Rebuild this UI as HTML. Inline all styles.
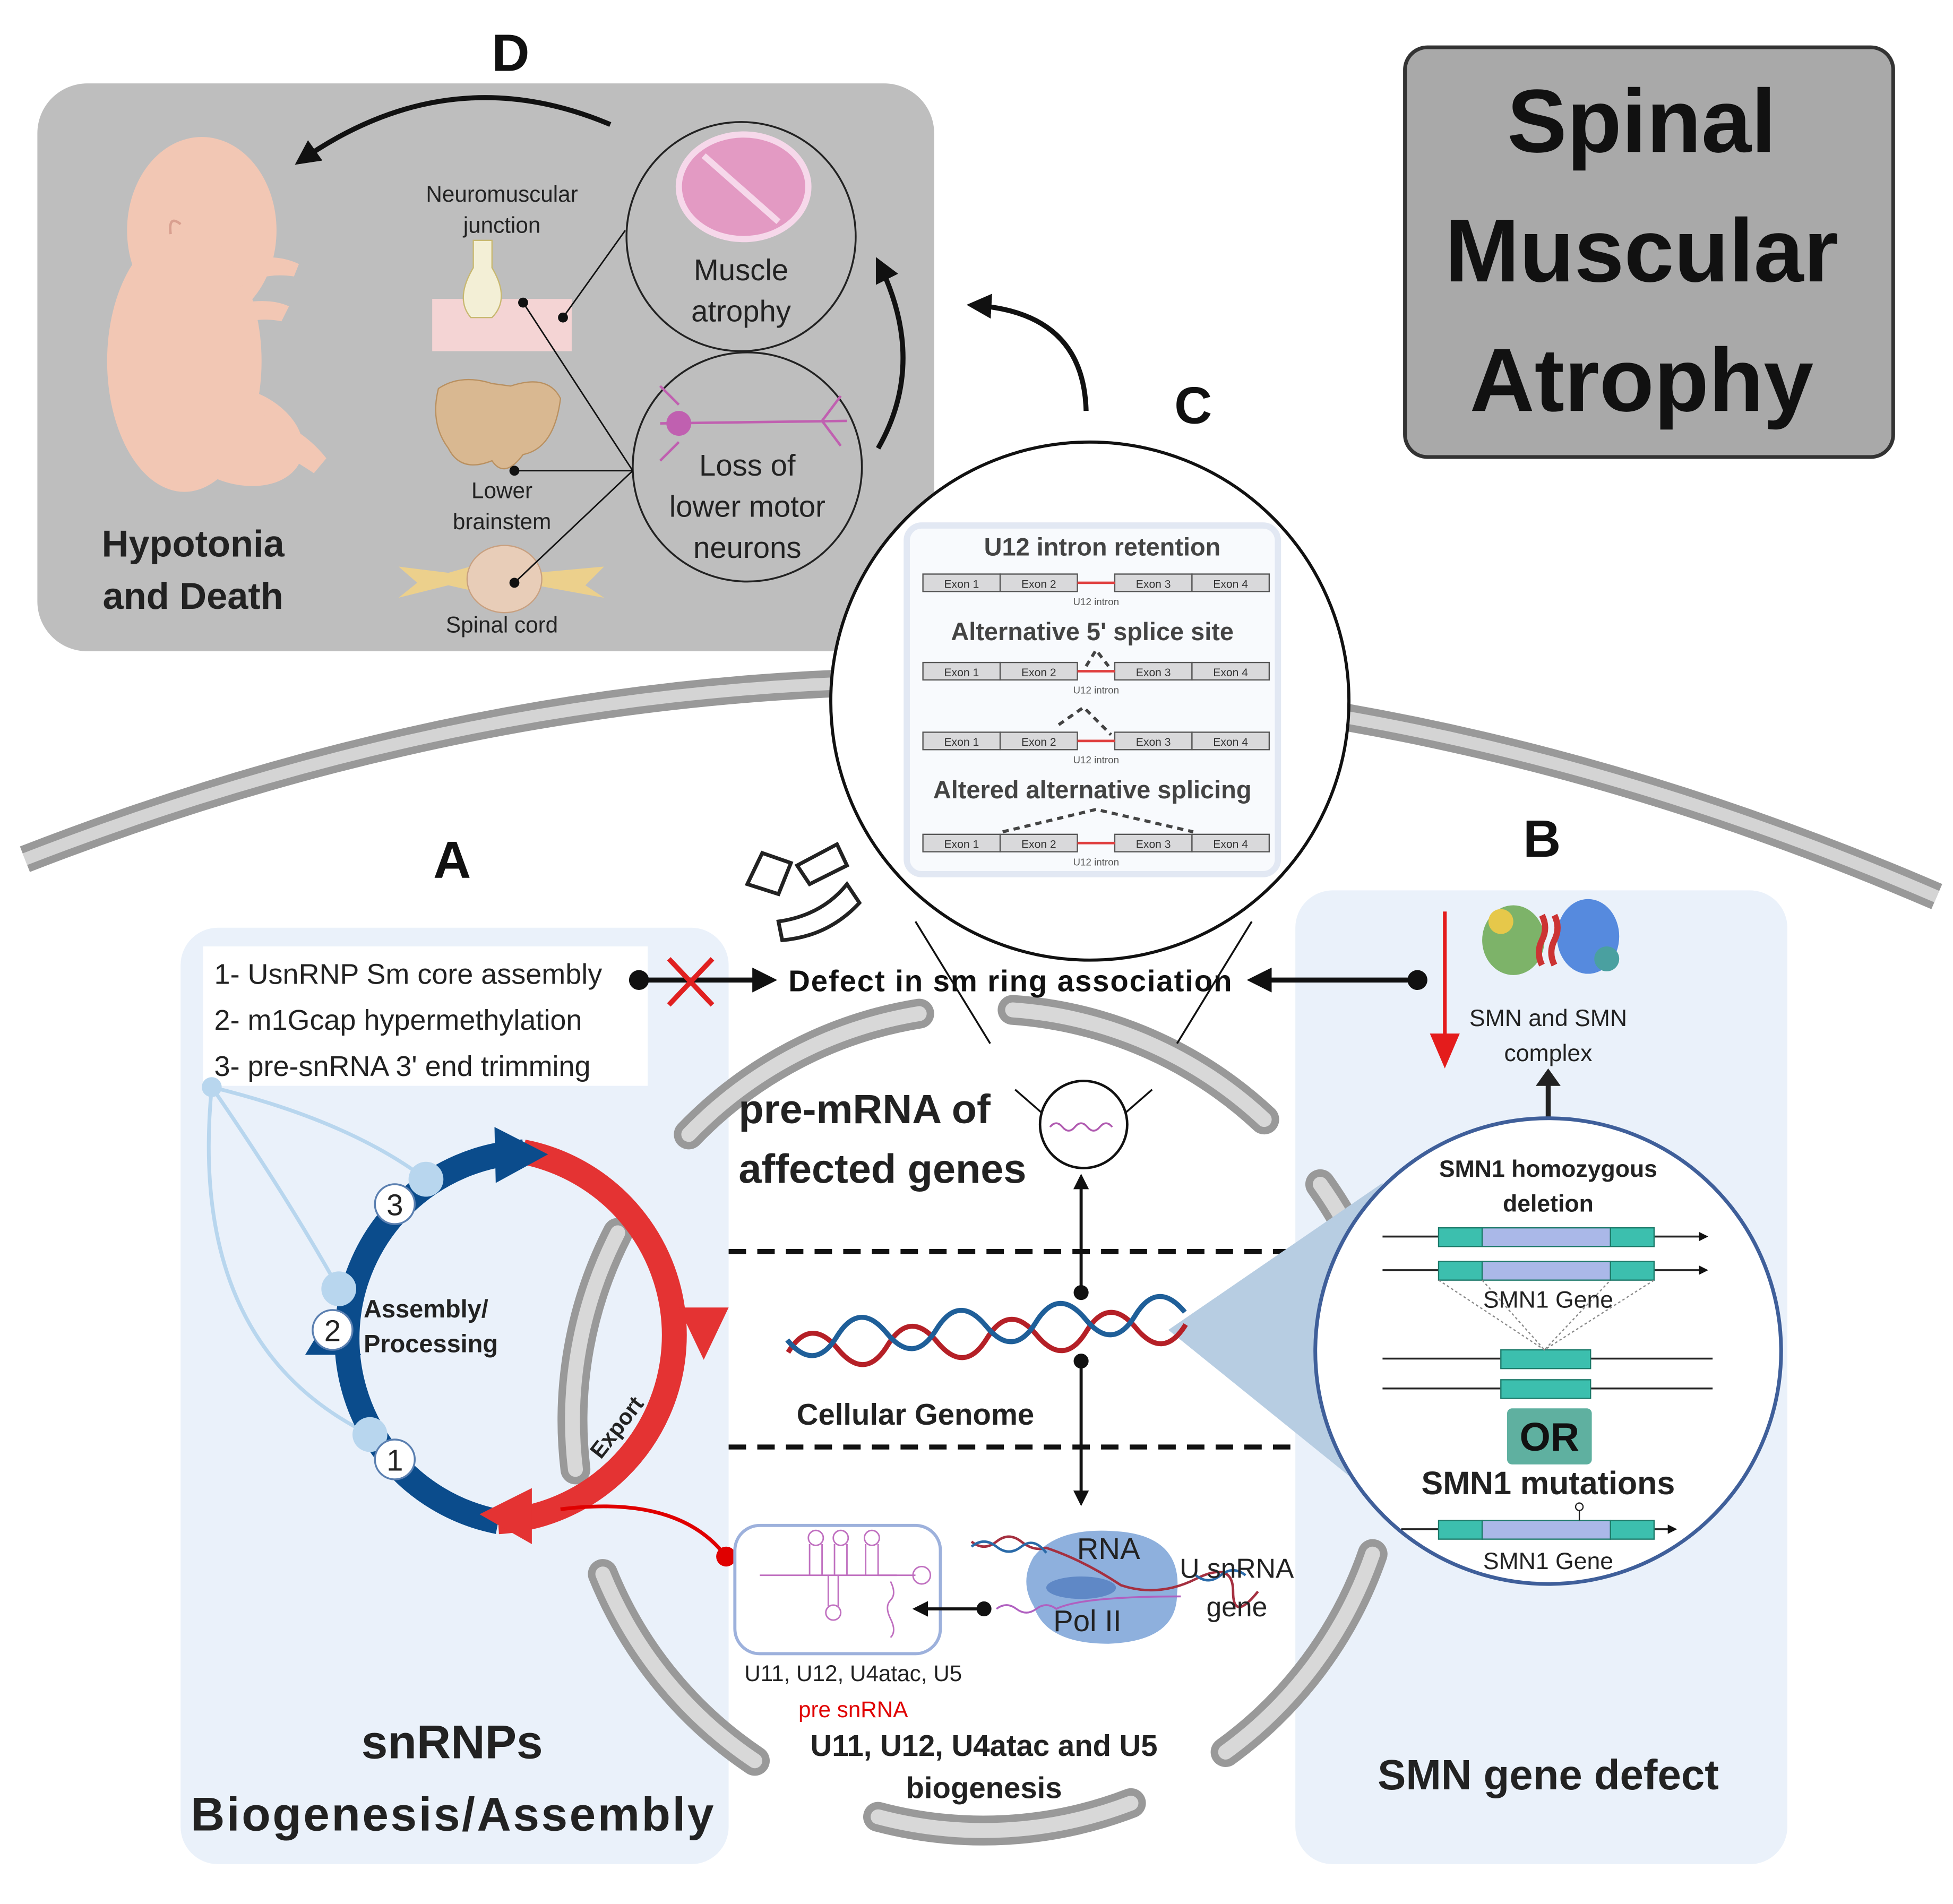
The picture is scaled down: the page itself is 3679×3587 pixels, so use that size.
<!DOCTYPE html>
<html><head><meta charset="utf-8"><style>
html,body{margin:0;padding:0;background:#fff;}
svg{display:block;}
text{font-family:"Liberation Sans",sans-serif;}
.b{font-weight:bold;}
</style></head><body>
<svg width="3679" height="3587" viewBox="0 0 1568 1529" preserveAspectRatio="none" xmlns="http://www.w3.org/2000/svg">
<defs>
<marker id="ak" viewBox="0 0 10 10" refX="8" refY="5" markerWidth="5" markerHeight="5" orient="auto"><path d="M0,0L10,5L0,10z" fill="#111"/></marker>
</defs>
<rect width="1568" height="1529" fill="#fff"/>

<!-- D panel -->
<rect x="30" y="67" width="720" height="456" rx="40" fill="#bebebe"/>
<text x="410" y="57" font-size="42" class="b" text-anchor="middle" fill="#111">D</text>
<!-- baby -->
<g fill="#f2c7b4">
<ellipse cx="162" cy="185" rx="60" ry="75"/>
<ellipse cx="148" cy="290" rx="62" ry="105"/>
<ellipse cx="190" cy="350" rx="55" ry="38" transform="rotate(20 190 350)"/>
<path d="M180,215 Q215,200 240,212 L236,222 Q210,218 190,232z"/>
<path d="M185,245 Q215,238 232,246 L226,258 Q205,254 190,262z"/>
<path d="M200,330 Q240,340 262,368 L252,380 Q225,362 205,355z"/>
</g>
<path d="M145,180 q-10,-8 -8,8" stroke="#d9a090" stroke-width="2" fill="none"/>
<text x="155" y="447" font-size="30" class="b" text-anchor="middle" fill="#222">Hypotonia</text>
<text x="155" y="489" font-size="30" class="b" text-anchor="middle" fill="#222">and Death</text>
<text x="403" y="162" font-size="18" text-anchor="middle" fill="#222">Neuromuscular</text>
<text x="403" y="187" font-size="18" text-anchor="middle" fill="#222">junction</text>
<rect x="347" y="240" width="112" height="42" fill="#f4d4d4"/>
<path d="M380,193 L395,193 L395,215 Q410,240 395,255 L378,255 Q365,240 380,215z" fill="#f3efd6" stroke="#c8b870"/>
<path d="M352,312 Q370,300 395,308 L410,310 Q440,300 450,320 Q445,360 420,365 Q405,385 395,370 Q370,380 360,360 Q345,340 352,312z" fill="#d9b891" stroke="#b99060"/>
<text x="403" y="400" font-size="18" text-anchor="middle" fill="#222">Lower</text>
<text x="403" y="425" font-size="18" text-anchor="middle" fill="#222">brainstem</text>
<path d="M320,455 L360,460 L395,450 L430,460 L485,455 L470,470 L485,480 L430,470 L395,478 L360,470 L320,480 L335,468z" fill="#ecd08c"/>
<ellipse cx="405" cy="465" rx="30" ry="27" fill="#e8cdb8" stroke="#c8a080"/>
<text x="403" y="508" font-size="18" text-anchor="middle" fill="#222">Spinal cord</text>
<circle cx="595" cy="190" r="92" fill="none" stroke="#222" stroke-width="1.5"/>
<circle cx="600" cy="375" r="92" fill="none" stroke="#222" stroke-width="1.5"/>
<ellipse cx="597" cy="150" rx="52" ry="42" fill="#e39ac3" stroke="#f6d8ea" stroke-width="5"/>
<path d="M565,125 L625,178" stroke="#f6d8ea" stroke-width="5"/>
<text x="595" y="225" font-size="24" text-anchor="middle" fill="#222">Muscle</text>
<text x="595" y="258" font-size="24" text-anchor="middle" fill="#222">atrophy</text>
<path d="M530,340 L680,338 M545,325 l-15,-15 M545,355 l-15,15 M660,338 l15,-20 M660,338 l15,20" stroke="#c060b0" stroke-width="2" fill="none"/>
<circle cx="545" cy="340" r="10" fill="#c060b0"/>
<text x="600" y="382" font-size="24" text-anchor="middle" fill="#222">Loss of</text>
<text x="600" y="415" font-size="24" text-anchor="middle" fill="#222">lower motor</text>
<text x="600" y="448" font-size="24" text-anchor="middle" fill="#222">neurons</text>
<g stroke="#111" stroke-width="1.2" fill="none">
<path d="M452,255 L502,185"/><path d="M420,243 L508,378"/><path d="M413,378 L508,378"/><path d="M413,468 L508,378"/>
</g>
<g fill="#111"><circle cx="452" cy="255" r="4"/><circle cx="420" cy="243" r="4"/><circle cx="413" cy="378" r="4"/><circle cx="413" cy="468" r="4"/></g>
<path d="M490,100 Q360,45 240,130" stroke="#111" stroke-width="4" fill="none" marker-end="url(#ak)"/>
<path d="M705,360 Q745,290 705,210" stroke="#111" stroke-width="4" fill="none" marker-end="url(#ak)"/>
<path d="M872,330 Q870,250 780,245" stroke="#111" stroke-width="4" fill="none" marker-end="url(#ak)"/>

<!-- title -->
<rect x="1128" y="38" width="392" height="329" rx="18" fill="#a9a9a9" stroke="#333" stroke-width="3"/>
<text x="1318" y="122" font-size="72" class="b" text-anchor="middle" fill="#111">Spinal</text>
<text x="1318" y="226" font-size="72" class="b" text-anchor="middle" fill="#111">Muscular</text>
<text x="1318" y="330" font-size="72" class="b" text-anchor="middle" fill="#111">Atrophy</text>

<!-- outer membrane -->
<path d="M20,690 Q790,390 1555,720" stroke="#999" stroke-width="22" fill="none"/>
<path d="M20,690 Q790,390 1555,720" stroke="#d4d4d4" stroke-width="10" fill="none"/>

<!-- panels A B -->
<rect x="145" y="745" width="440" height="752" rx="30" fill="#eaf1fa"/>
<rect x="1040" y="715" width="395" height="782" rx="30" fill="#eaf1fa"/>

<!-- inner ring pieces -->
<g fill="none" stroke-linecap="round">
<g stroke="#999" stroke-width="24">
<path d="M553,911 A330,330 0 0 1 738,814"/><path d="M813,811 A330,330 0 0 1 1015,899"/>
<path d="M496,990 A330,330 0 0 0 462,1180"/><path d="M484,1264 A330,330 0 0 0 606,1414"/>
<path d="M705,1459 A330,330 0 0 0 908,1448"/><path d="M984,1407 A330,330 0 0 0 1102,1248"/>
<path d="M1060,951 A330,330 0 0 1 1089,1000"/>
</g>
<g stroke="#d8d8d8" stroke-width="12">
<path d="M553,911 A330,330 0 0 1 738,814"/><path d="M813,811 A330,330 0 0 1 1015,899"/>
<path d="M496,990 A330,330 0 0 0 462,1180"/><path d="M484,1264 A330,330 0 0 0 606,1414"/>
<path d="M705,1459 A330,330 0 0 0 908,1448"/><path d="M984,1407 A330,330 0 0 0 1102,1248"/>
<path d="M1060,951 A330,330 0 0 1 1089,1000"/>
</g>
</g>

<text x="363" y="705" font-size="42" class="b" text-anchor="middle" fill="#111">A</text>
<text x="1238" y="688" font-size="42" class="b" text-anchor="middle" fill="#111">B</text>
<text x="958" y="340" font-size="42" class="b" text-anchor="middle" fill="#111">C</text>

<!-- list box -->
<rect x="163" y="760" width="357" height="112" fill="#fff"/>
<text x="172" y="790" font-size="23" fill="#222">1- UsnRNP Sm core assembly</text>
<text x="172" y="827" font-size="23" fill="#222">2- m1Gcap hypermethylation</text>
<text x="172" y="864" font-size="23" fill="#222">3- pre-snRNA 3' end trimming</text>

<!-- defect arrows -->
<line x1="513" y1="787" x2="620" y2="787" stroke="#111" stroke-width="4" marker-end="url(#ak)"/>
<circle cx="513" cy="787" r="8" fill="#111"/>
<path d="M537,770 L572,807 M572,770 L537,807" stroke="#e02020" stroke-width="4"/>

<!-- small Sm ring icons -->
<g fill="#fff" stroke="#222" stroke-width="3">
<path d="M600,710 L612,685 L635,693 L625,718z"/><path d="M640,695 L672,678 L680,695 L650,710z"/>
<path d="M625,740 Q660,735 680,710 L690,725 Q665,752 628,755z"/>
</g>

<!-- C circle -->
<line x1="735" y1="740" x2="795" y2="838" stroke="#111" stroke-width="1.5"/>
<line x1="1005" y1="740" x2="945" y2="838" stroke="#111" stroke-width="1.5"/>
<line x1="815" y1="875" x2="838" y2="895" stroke="#111" stroke-width="1.5"/>
<line x1="925" y1="875" x2="902" y2="895" stroke="#111" stroke-width="1.5"/>
<rect x="628" y="772" width="370" height="30" fill="#fff" opacity="0"/>
<text x="811" y="796" font-size="24" class="b" text-anchor="middle" fill="#111" textLength="356">Defect in sm ring association</text>
<line x1="1138" y1="787" x2="1005" y2="787" stroke="#111" stroke-width="4" marker-end="url(#ak)"/>
<circle cx="1138" cy="787" r="8" fill="#111"/>
<circle cx="875" cy="563" r="208" fill="#fff" stroke="#111" stroke-width="2.5"/>
<rect x="728" y="422" width="298" height="280" rx="12" fill="#f8fafd" stroke="#e2e8f3" stroke-width="5"/>
<g font-size="20" class="b" fill="#444" text-anchor="middle">
<text x="885" y="446">U12 intron retention</text>
<text x="877" y="514">Alternative 5' splice site</text>
<text x="877" y="641">Altered alternative splicing</text>
</g>
<g id="ex">
<g fill="#d9d9db" stroke="#555" stroke-width="1">
<rect x="741" y="461" width="62" height="14"/><rect x="803" y="461" width="62" height="14"/>
<rect x="895" y="461" width="62" height="14"/><rect x="957" y="461" width="62" height="14"/>
</g>
<line x1="865" y1="468" x2="895" y2="468" stroke="#e04040" stroke-width="2"/>
<g font-size="9" fill="#333" text-anchor="middle"><text x="772" y="472">Exon 1</text><text x="834" y="472">Exon 2</text><text x="926" y="472">Exon 3</text><text x="988" y="472">Exon 4</text></g>
<text x="880" y="486" font-size="8" fill="#555" text-anchor="middle">U12 intron</text>
</g>
<use href="#ex" y="71"/><use href="#ex" y="127"/><use href="#ex" y="209"/>
<g stroke="#444" stroke-width="2.5" stroke-dasharray="5,4" fill="none">
<path d="M872,535 L880,522 L890,535"/><path d="M850,582 L870,568 L892,590"/><path d="M805,668 L880,650 L958,668"/>
</g>

<!-- small circle pre-mRNA -->
<circle cx="870" cy="903" r="35" fill="#fff" stroke="#111" stroke-width="2"/>
<path d="M843,905 q5,-6 10,0 t10,0 t10,0 t10,0 t10,0" stroke="#b05ab0" stroke-width="1.5" fill="none"/>
<text x="593" y="902" font-size="33" class="b" fill="#222">pre-mRNA of</text>
<text x="593" y="950" font-size="33" class="b" fill="#222">affected genes</text>

<!-- vertical arrows -->
<line x1="868" y1="1038" x2="868" y2="945" stroke="#111" stroke-width="2.5" marker-end="url(#ak)"/>
<circle cx="868" cy="1038" r="6" fill="#111"/>
<line x1="868" y1="1093" x2="868" y2="1207" stroke="#111" stroke-width="2.5" marker-end="url(#ak)"/>
<circle cx="868" cy="1093" r="6" fill="#111"/>
<line x1="585" y1="1005" x2="1045" y2="1005" stroke="#111" stroke-width="4" stroke-dasharray="14,9"/>
<line x1="585" y1="1162" x2="1040" y2="1162" stroke="#111" stroke-width="4" stroke-dasharray="14,9"/>

<!-- B callout triangle -->
<path d="M938,1068 L1110,950 L1120,1215z" fill="#b7cde2"/>

<!-- DNA -->
<path d="M632,1075 q20,-28 40,0 t40,0 t40,0 t40,0 t40,0 t40,0 t40,0 t40,0" transform="rotate(-4 790 1070)" stroke="#b52027" stroke-width="4" fill="none"/>
<path d="M632,1065 q20,28 40,0 t40,0 t40,0 t40,0 t40,0 t40,0 t40,0 t40,0" transform="rotate(-4 790 1070)" stroke="#1f5f99" stroke-width="4" fill="none"/>
<text x="735" y="1144" font-size="24" class="b" text-anchor="middle" fill="#222">Cellular Genome</text>

<!-- cycle -->
<g fill="none" stroke="#b8d6ee" stroke-width="3">
<path d="M170,873 Q280,900 342,947"/><path d="M170,873 Q230,960 272,1035"/><path d="M170,873 Q150,1080 297,1152"/>
</g>
<circle cx="170" cy="873" r="8" fill="#b8d6ee"/>
<path d="M400,1222 A150,150 0 0 1 420,925" stroke="#0b4c8c" stroke-width="20" fill="none"/>
<path d="M420,925 A150,150 0 0 1 400,1222" stroke="#e43333" stroke-width="20" fill="none"/>
<path d="M397,905 L440,927 L398,950z" fill="#0b4c8c"/>
<path d="M545,1050 L585,1050 L565,1092z" fill="#e43333"/>
<path d="M427,1195 L385,1216 L427,1240z" fill="#e43333"/>
<path d="M245,1088 L265,1055 L290,1088z" fill="#0b4c8c"/>
<g fill="#b8d6ee"><circle cx="342" cy="947" r="14"/><circle cx="272" cy="1035" r="14"/><circle cx="297" cy="1152" r="14"/></g>
<g fill="#fff" stroke="#5a7fb0" stroke-width="1.5"><circle cx="317" cy="967" r="16"/><circle cx="267" cy="1068" r="16"/><circle cx="317" cy="1172" r="16"/></g>
<g font-size="24" text-anchor="middle" fill="#222"><text x="317" y="976">3</text><text x="267" y="1077">2</text><text x="317" y="1181">1</text></g>
<text x="292" y="1058" font-size="20" class="b" fill="#222">Assembly/</text>
<text x="292" y="1086" font-size="20" class="b" fill="#222">Processing</text>
<text x="500" y="1150" font-size="18" class="b" fill="#222" text-anchor="middle" transform="rotate(-52 500 1150)">Export</text>
<path d="M450,1212 Q545,1200 583,1250" stroke="#e00000" stroke-width="3" fill="none"/>
<circle cx="583" cy="1250" r="8" fill="#e00000"/>

<!-- snRNA box -->
<rect x="590" y="1225" width="165" height="103" rx="20" fill="#fff" stroke="#9db1dc" stroke-width="2.5"/>
<g stroke="#c070c0" stroke-width="1.2" fill="none">
<path d="M610,1265 L680,1265 L720,1265"/>
<path d="M650,1265 L650,1240 M660,1265 L660,1240"/><circle cx="655" cy="1235" r="6"/>
<path d="M670,1265 L670,1240 M680,1265 L680,1240"/><circle cx="675" cy="1235" r="6"/>
<path d="M695,1265 L695,1240 M705,1265 L705,1240"/><circle cx="700" cy="1235" r="6"/>
<path d="M665,1265 L665,1290 M673,1265 L673,1290"/><circle cx="669" cy="1295" r="6"/>
<path d="M705,1265 L735,1265"/><circle cx="740" cy="1265" r="7"/>
<path d="M715,1270 q5,10 0,15 t0,15 t0,15"/>
</g>
<text x="685" y="1350" font-size="18" text-anchor="middle" fill="#222">U11, U12, U4atac, U5</text>
<text x="685" y="1379" font-size="18" text-anchor="middle" fill="#e00000">pre snRNA</text>
<text x="790" y="1410" font-size="24" class="b" text-anchor="middle" fill="#222">U11, U12, U4atac and U5</text>
<text x="790" y="1444" font-size="24" class="b" text-anchor="middle" fill="#222">biogenesis</text>
<line x1="790" y1="1292" x2="735" y2="1292" stroke="#111" stroke-width="2.5" marker-end="url(#ak)"/>
<circle cx="790" cy="1292" r="6" fill="#111"/>

<!-- Pol II -->
<path d="M830,1250 Q850,1225 900,1230 Q950,1235 945,1280 Q945,1318 890,1320 Q840,1320 830,1290 Q818,1270 830,1250z" fill="#8eb0dd"/>
<ellipse cx="868" cy="1275" rx="28" ry="9" fill="#5f88c6"/>
<path d="M780,1238 q10,8 20,0 t20,0 t20,5 q30,10 60,30 q30,10 60,-5 t30,10 t20,0" stroke="#a53040" stroke-width="2" fill="none"/>
<path d="M780,1242 q10,-8 20,0 t20,0 t20,5 M960,1265 q10,8 20,0 t20,0" stroke="#2a6aa8" stroke-width="2" fill="none"/>
<path d="M800,1292 q8,-6 16,0 t16,0 t16,0 q20,-10 100,-10" stroke="#b060c0" stroke-width="1.5" fill="none"/>
<text x="890" y="1252" font-size="24" text-anchor="middle" fill="#222">RNA</text>
<text x="873" y="1310" font-size="24" text-anchor="middle" fill="#222">Pol II</text>
<text x="993" y="1267" font-size="22" text-anchor="middle" fill="#222">U snRNA</text>
<text x="993" y="1298" font-size="22" text-anchor="middle" fill="#222">gene</text>

<text x="363" y="1412" font-size="38" class="b" text-anchor="middle" fill="#222">snRNPs</text>
<text x="363" y="1470" font-size="38" class="b" text-anchor="middle" fill="#222" textLength="420">Biogenesis/Assembly</text>

<!-- B panel -->
<line x1="1160" y1="732" x2="1160" y2="835" stroke="#e41c1c" stroke-width="3"/>
<path d="M1148,830 L1172,830 L1160,858z" fill="#e41c1c"/>
<g>
<ellipse cx="1215" cy="755" rx="25" ry="28" fill="#6aa84f" opacity=".85"/>
<ellipse cx="1275" cy="752" rx="25" ry="30" fill="#3c78d8" opacity=".85"/>
<path d="M1238,735 q5,10 0,20 t0,20 M1248,735 q5,10 0,20 t0,20" stroke="#cc3333" stroke-width="5" fill="none"/>
<circle cx="1205" cy="740" r="10" fill="#e6c84a"/><circle cx="1290" cy="770" r="10" fill="#4aa0a0"/>
</g>
<text x="1243" y="824" font-size="19" text-anchor="middle" fill="#222">SMN and SMN</text>
<text x="1243" y="852" font-size="19" text-anchor="middle" fill="#222">complex</text>
<line x1="1243" y1="905" x2="1243" y2="868" stroke="#222" stroke-width="4"/>
<path d="M1233,872 L1253,872 L1243,858z" fill="#222"/>
<circle cx="1243" cy="1085" r="187" fill="#fff" stroke="#3f5f9a" stroke-width="3"/>
<text x="1243" y="945" font-size="19" class="b" text-anchor="middle" fill="#222">SMN1 homozygous</text>
<text x="1243" y="973" font-size="19" class="b" text-anchor="middle" fill="#222">deletion</text>
<g stroke="#222" stroke-width="1.5">
<line x1="1110" y1="993" x2="1370" y2="993" marker-end="url(#ak)"/>
<line x1="1110" y1="1020" x2="1370" y2="1020" marker-end="url(#ak)"/>
<line x1="1110" y1="1091" x2="1375" y2="1091"/><line x1="1110" y1="1115" x2="1375" y2="1115"/>
<line x1="1125" y1="1228" x2="1345" y2="1228" marker-end="url(#ak)"/>
</g>
<g stroke="#1e7a6a" stroke-width="1">
<rect x="1155" y="986" width="35" height="15" fill="#3cbfae"/><rect x="1190" y="986" width="103" height="15" fill="#aab8e8"/><rect x="1293" y="986" width="35" height="15" fill="#3cbfae"/>
<rect x="1155" y="1013" width="35" height="15" fill="#3cbfae"/><rect x="1190" y="1013" width="103" height="15" fill="#aab8e8"/><rect x="1293" y="1013" width="35" height="15" fill="#3cbfae"/>
<rect x="1205" y="1084" width="72" height="15" fill="#3cbfae"/><rect x="1205" y="1108" width="72" height="15" fill="#3cbfae"/>
<rect x="1155" y="1221" width="35" height="15" fill="#3cbfae"/><rect x="1190" y="1221" width="103" height="15" fill="#aab8e8"/><rect x="1293" y="1221" width="35" height="15" fill="#3cbfae"/>
</g>
<g stroke="#888" stroke-width="1" stroke-dasharray="2,2" fill="none"><path d="M1155,1028 L1240,1084 L1328,1028 M1190,1028 L1240,1084 L1293,1028"/></g>
<line x1="1268" y1="1221" x2="1268" y2="1212" stroke="#222"/><circle cx="1268" cy="1210" r="3" fill="#fff" stroke="#222"/>
<text x="1243" y="1050" font-size="19" text-anchor="middle" fill="#222">SMN1 Gene</text>
<rect x="1210" y="1131" width="68" height="45" rx="4" fill="#5fb0a0"/>
<text x="1244" y="1165" font-size="32" class="b" text-anchor="middle" fill="#111">OR</text>
<text x="1243" y="1200" font-size="26" class="b" text-anchor="middle" fill="#222">SMN1 mutations</text>
<text x="1243" y="1260" font-size="19" text-anchor="middle" fill="#222">SMN1 Gene</text>
<text x="1243" y="1437" font-size="34" class="b" text-anchor="middle" fill="#222">SMN gene defect</text>
</svg>
</body></html>
